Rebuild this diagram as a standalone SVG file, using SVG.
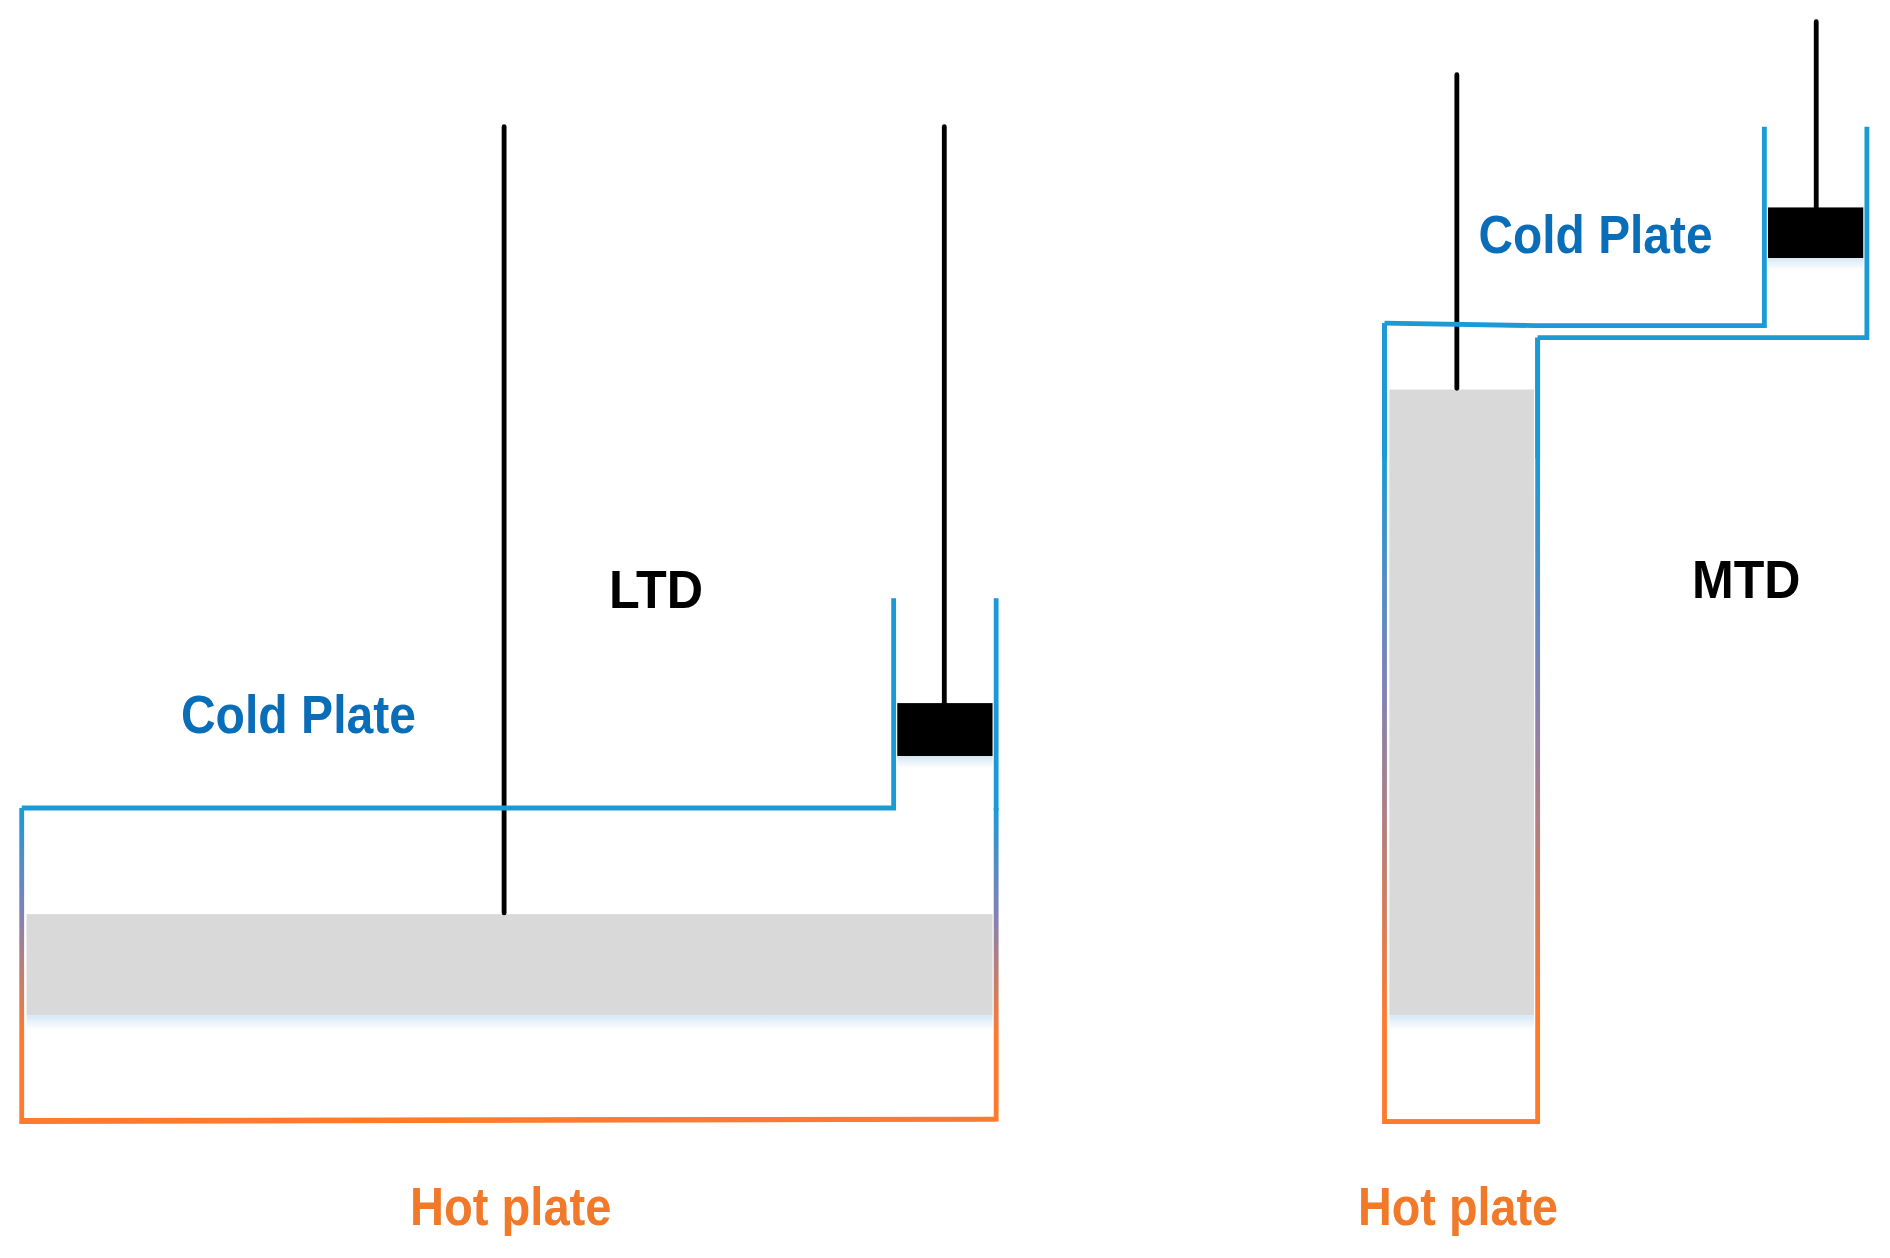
<svg xmlns="http://www.w3.org/2000/svg" width="1890" height="1258" viewBox="0 0 1890 1258">
<style>
.rod{stroke:#000;stroke-width:4;stroke-linecap:round;fill:none}
.cold{stroke:#1b9ad6;stroke-width:4;fill:none}
.t{font-family:"Liberation Sans",Arial,sans-serif;font-size:44px;font-weight:bold;lengthAdjust:spacingAndGlyphs}
.blue{fill:#0a6db8}
.org{fill:#f07a2a}
</style>
<defs>
<linearGradient id="g1" gradientUnits="userSpaceOnUse" x1="0" y1="670" x2="0" y2="860">
<stop offset="0" stop-color="#1b9ad6"/><stop offset="0.45" stop-color="#7f82b8"/><stop offset="1" stop-color="#ff7a2e"/></linearGradient>
<linearGradient id="g2" gradientUnits="userSpaceOnUse" x1="0" y1="380" x2="0" y2="850">
<stop offset="0" stop-color="#1b9ad6"/><stop offset="0.4" stop-color="#7f82b8"/><stop offset="1" stop-color="#ff7a2e"/></linearGradient>
<linearGradient id="fade" x1="0" y1="0" x2="0" y2="1">
<stop offset="0" stop-color="#d6e8f5"/><stop offset="1" stop-color="#fff"/></linearGradient>
</defs>
<rect width="1890" height="1258" fill="#fff"/>
<g transform="scale(1.206)">
<g id="ltd">
<rect x="22" y="758" width="801" height="84" fill="#d9d9d9"/>
<rect x="22" y="842" width="801" height="12" fill="url(#fade)"/>
<line class="rod" x1="418" y1="105" x2="418" y2="757"/>
<polyline class="cold" points="18,670 741,670 741,496"/>
<line class="cold" x1="826" y1="496" x2="826" y2="672"/>
<rect x="744" y="583" width="79" height="44" fill="#000"/>
<rect x="744" y="627" width="79" height="10" fill="url(#fade)"/>
<line class="rod" x1="783" y1="105" x2="783" y2="585"/>
<polyline points="18,670 18,930 826,928 826,670" fill="none" stroke="url(#g1)" stroke-width="4"/>
<line x1="18" y1="929" x2="826" y2="928" stroke="#ff7a2e" stroke-width="4"/>
<text class="t blue" x="150" y="608" textLength="195" lengthAdjust="spacingAndGlyphs">Cold Plate</text>
<text class="t" x="505" y="504" textLength="78" lengthAdjust="spacingAndGlyphs">LTD</text>
<text class="t org" x="340" y="1016" textLength="167" lengthAdjust="spacingAndGlyphs">Hot plate</text>
</g>
<g id="mtd">
<rect x="1152" y="323" width="120" height="519" fill="#d9d9d9"/>
<rect x="1152" y="842" width="120" height="12" fill="url(#fade)"/>
<line class="rod" x1="1208" y1="62" x2="1208" y2="322"/>
<polyline class="cold" points="1148,268 1273,270 1463,270 1463,105"/>
<polyline class="cold" points="1275,280 1548,280 1548,105"/>
<rect x="1466" y="172" width="79" height="42" fill="#000"/>
<rect x="1466" y="214" width="79" height="10" fill="url(#fade)"/>
<line class="rod" x1="1506" y1="18" x2="1506" y2="172"/>
<polyline points="1148,268 1148,930 1275,930 1275,280" fill="none" stroke="url(#g2)" stroke-width="4"/>
<line x1="1148" y1="930" x2="1275" y2="930" stroke="#ff7a2e" stroke-width="4"/>
<line class="cold" x1="1148" y1="268" x2="1148" y2="380"/>
<line class="cold" x1="1275" y1="280" x2="1275" y2="380"/>
<text class="t blue" x="1226" y="210" textLength="194" lengthAdjust="spacingAndGlyphs">Cold Plate</text>
<text class="t" x="1403" y="496" textLength="90" lengthAdjust="spacingAndGlyphs">MTD</text>
<text class="t org" x="1126" y="1016" textLength="166" lengthAdjust="spacingAndGlyphs">Hot plate</text>
</g>
</g>
</svg>
